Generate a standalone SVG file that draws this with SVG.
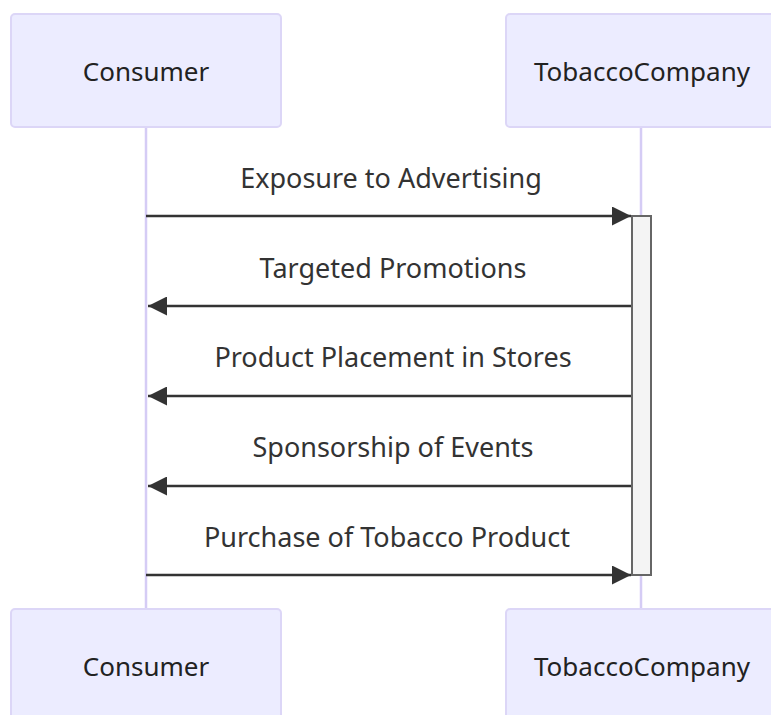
<svg xmlns="http://www.w3.org/2000/svg" width="771" height="715" viewBox="0 0 771 715">
  <style>
    .actor rect { fill: #ECECFF; stroke: #DCD6F7; stroke-width: 2; }
    .actor text { font-family: "Noto Sans", "Open Sans", "DejaVu Sans", sans-serif; font-size: 26px; fill: #222; text-anchor: middle; dominant-baseline: central; }
    .lifeline { stroke: #D5CCF5; stroke-width: 2.5; }
    .msg { stroke: #333; stroke-width: 2.5; fill: none; }
    .label { font-family: "Noto Sans", "Open Sans", "DejaVu Sans", sans-serif; font-size: 27px; fill: #333; text-anchor: middle; }
    .activation { fill: #F4F4F4; stroke: #666; stroke-width: 2; }
  </style>
  <defs>
    <marker id="arrow" viewBox="0 0 10 10" refX="10" refY="5" markerWidth="19" markerHeight="19" markerUnits="userSpaceOnUse" orient="auto">
      <path d="M0,0 L10,5 L0,10 z" fill="#333"/>
    </marker>
  </defs>
  <rect width="771" height="715" fill="#fff"/>

  <!-- lifelines -->
  <g id="lifelines">
    <line class="lifeline" x1="146" y1="127" x2="146" y2="609"/>
    <line class="lifeline" x1="641" y1="127" x2="641" y2="609"/>
  </g>

  <!-- actors, top row -->
  <g id="consumer-top" class="actor">
    <rect x="11" y="14" width="270" height="113" rx="4"/>
    <text x="146" y="71">Consumer</text>
  </g>
  <g id="tobacco-top" class="actor">
    <rect x="506" y="14" width="270" height="113" rx="4"/>
    <text x="642" y="71">TobaccoCompany</text>
  </g>

  <!-- activation bar -->
  <g id="activation">
    <rect class="activation" x="632" y="216" width="19" height="359"/>
  </g>

  <!-- messages -->
  <g id="connectors">
    <line class="msg" x1="146" y1="216" x2="631" y2="216" marker-end="url(#arrow)"/>
    <line class="msg" x1="631" y1="306" x2="148" y2="306" marker-end="url(#arrow)"/>
    <line class="msg" x1="631" y1="396" x2="148" y2="396" marker-end="url(#arrow)"/>
    <line class="msg" x1="631" y1="486" x2="148" y2="486" marker-end="url(#arrow)"/>
    <line class="msg" x1="146" y1="575" x2="631" y2="575" marker-end="url(#arrow)"/>
  </g>
  <g id="labels">
    <text class="label" x="391" y="188">Exposure to Advertising</text>
    <text class="label" x="393" y="278">Targeted Promotions</text>
    <text class="label" x="393" y="367">Product Placement in Stores</text>
    <text class="label" x="393" y="457">Sponsorship of Events</text>
    <text class="label" x="387" y="547">Purchase of Tobacco Product</text>
  </g>

  <!-- actors, bottom row -->
  <g id="consumer-bottom" class="actor">
    <rect x="11" y="609" width="270" height="113" rx="4"/>
    <text x="146" y="666">Consumer</text>
  </g>
  <g id="tobacco-bottom" class="actor">
    <rect x="506" y="609" width="270" height="113" rx="4"/>
    <text x="642" y="666">TobaccoCompany</text>
  </g>
</svg>
